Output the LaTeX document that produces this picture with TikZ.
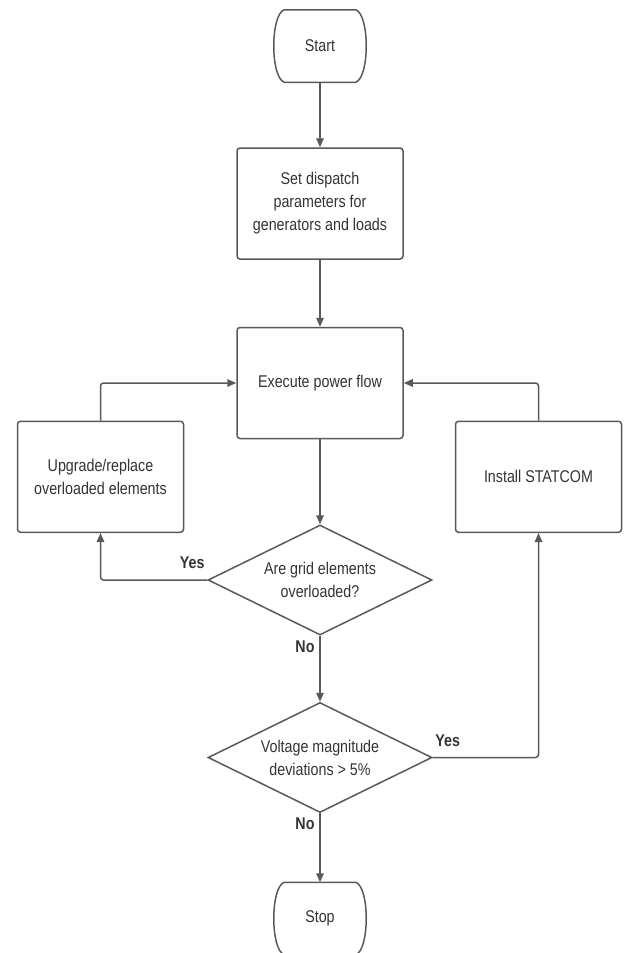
\documentclass[tikz,border=0pt]{standalone}
\usepackage{fontspec}
\setmainfont{Liberation Sans}[FakeStretch=0.84]
\usepackage{tikz}
\usetikzlibrary{arrows.meta,positioning,shapes.geometric}
\definecolor{linegray}{HTML}{595959}
\definecolor{textgray}{HTML}{333333}
\newcommand{\termoutline}[1]{\draw[-] (#1.north west) -- (#1.north east)
  .. controls +(14,-5) and +(14,5) .. (#1.south east) -- (#1.south west)
  .. controls +(-14,5) and +(-14,-5) .. cycle;}

\begin{document}
\begin{tikzpicture}[->,>={Triangle[length=9pt,width=7.5pt]},x=1pt,y=1pt,
  line width=1.5pt,draw=linegray,
  every node/.style={font=\fontsize{17}{23}\selectfont,text=textgray,align=center},
  term node/.style={rectangle,minimum width=70pt,minimum height=71pt,inner sep=0pt},
  proc node/.style={draw=linegray,rectangle,rounded corners=3pt,minimum width=166pt,minimum height=111pt,inner sep=0pt},
  dec node/.style={draw=linegray,diamond,aspect=2,inner sep=0pt,minimum width=224pt,minimum height=110pt},
  ans/.style={font=\fontsize{17}{23}\selectfont\bfseries}]

  \useasboundingbox (0,0) rectangle (624,-953);

  \node[term node] (start) at (320,-46) {Start};
  \node[proc node] (dispatch) [below=65pt of start] {Set dispatch\\parameters for\\generators and loads};
  \node[proc node] (flow) [below=67pt of dispatch] {Execute power flow};
  \node[proc node] (upgrade) [below left=37.5pt and 52pt of flow.west] {Upgrade/replace\\overloaded elements};
  \node[proc node] (statcom) [below right=37.5pt and 51pt of flow.east] {Install STATCOM};
  \node[dec node] (overload) [below=85pt of flow] {Are grid elements\\overloaded?};
  \node[dec node] (voltage) [below=66pt of overload] {Voltage magnitude\\deviations > 5\%};
  \node[term node] (stop) [below=69pt of voltage] {Stop};

  \termoutline{start}
  \termoutline{stop}

  \path[rounded corners=3pt]
    (start) edge (dispatch)
    (dispatch) edge (flow)
    (flow) edge (overload);
  \draw[rounded corners=3pt] (overload.west) -| node[at start,ans,xshift=-15pt,yshift=17pt] {Yes} (upgrade.south);
  \draw[rounded corners=3pt] (upgrade.north) |- (flow.west);
  \draw (overload.south) -- node[at start,ans,xshift=-15pt,yshift=-11pt] {No} (voltage.north);
  \draw[rounded corners=3pt] (voltage.east) -| node[at start,ans,xshift=15pt,yshift=17pt] {Yes} (statcom.south);
  \draw[rounded corners=3pt] (statcom.north) |- (flow.east);
  \draw (voltage.south) -- node[at start,ans,xshift=-15pt,yshift=-10pt] {No} (stop);
\end{tikzpicture}
\end{document}
